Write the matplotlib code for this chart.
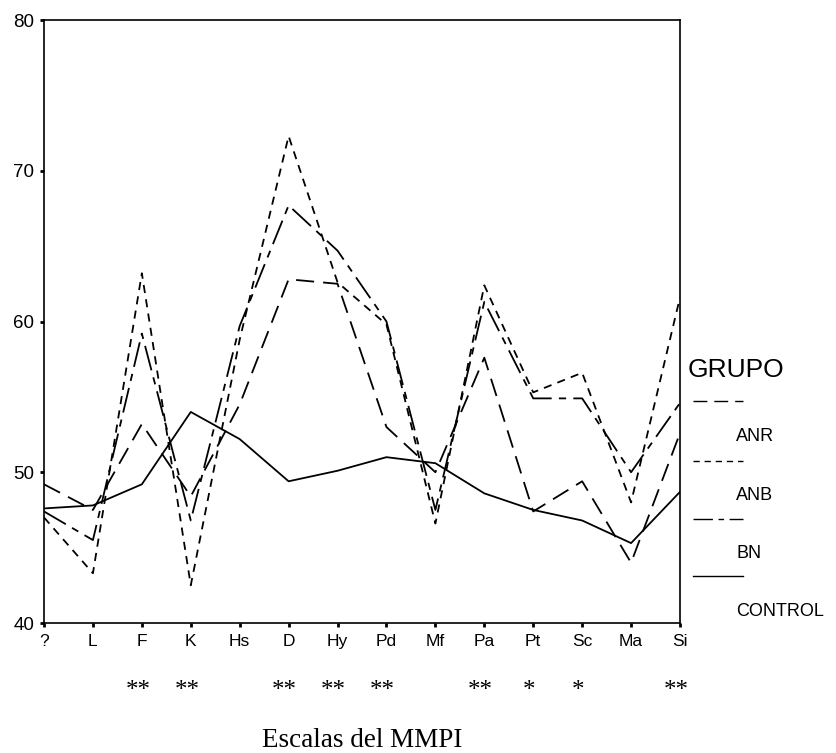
import matplotlib
matplotlib.use("Agg")
import matplotlib.pyplot as plt
from matplotlib.lines import Line2D

# ---- data ----
scales = ['?', 'L', 'F', 'K', 'Hs', 'D', 'Hy', 'Pd', 'Mf', 'Pa', 'Pt', 'Sc', 'Ma', 'Si']
anr = [49.2, 47.5, 53.2, 48.4, 54.5, 62.8, 62.5, 53.0, 50.0, 57.6, 47.4, 49.4, 44.0, 52.6]
anb = [47.0, 43.3, 63.2, 42.5, 58.8, 72.3, 62.6, 59.8, 46.6, 62.4, 55.3, 56.6, 48.0, 61.6]
bn = [47.4, 45.5, 59.2, 46.8, 59.7, 67.7, 64.7, 60.0, 47.5, 61.3, 54.9, 54.9, 50.0, 54.6]
control = [47.6, 47.8, 49.2, 54.0, 52.2, 49.4, 50.1, 51.0, 50.6, 48.6, 47.5, 46.8, 45.3, 48.7]
significance = ['', '', '**', '**', '', '**', '**', '**', '', '**', '*', '*', '', '**']
group_names = ['ANR', 'ANB', 'BN', 'CONTROL']
yticks = [40, 50, 60, 70, 80]

W, H = 836, 753
fig = plt.figure(figsize=(W / 100, H / 100), dpi=100)
ax = fig.add_axes([44 / W, 1 - 623 / H, (680 - 44) / W, (623 - 20) / H])

styles = {
    'ANR': dict(dashes=(10, 5)),
    'ANB': dict(dashes=(4.5, 3.5)),
    'BN': dict(dashes=(14, 4, 4, 4)),
    'CONTROL': dict(linestyle='-'),
}
series = {'ANR': anr, 'ANB': anb, 'BN': bn, 'CONTROL': control}
x = list(range(len(scales)))
for name in group_names:
    ax.plot(x, series[name], color='black', linewidth=1.3, **styles[name])

ax.set_xlim(0, len(scales) - 1)
ax.set_ylim(40, 80)
ax.set_yticks(yticks)
ax.set_xticks(x)
ax.set_xticklabels(scales, fontsize=12.5, family='Liberation Sans')
ax.set_yticklabels([str(v) for v in yticks], fontsize=13.5, family='Liberation Sans')
ax.tick_params(direction='out', length=3, width=2, pad=4)
ax.tick_params(axis='x', pad=5)
for sp in ax.spines.values():
    sp.set_linewidth(1.2)

# significance stars
for xi, s in zip(x, significance):
    if s:
        ax.text(xi - 0.08, -0.113, s, transform=ax.get_xaxis_transform(),
                ha='center', va='center', fontsize=18, family='Liberation Serif')

ax.text(0.5, -0.195, 'Escalas del MMPI', transform=ax.transAxes, ha='center',
        va='center', fontsize=19.5, family='Liberation Serif')

# legend drawn by hand
fig.text(688 / W, 1 - 370 / H, 'GRUPO', ha='left', va='center', fontsize=19,
         family='Liberation Sans')
line_y = [401, 461, 519, 576]
for name, ly in zip(group_names, line_y):
    fig.add_artist(Line2D([693 / W, 743 / W], [1 - ly / H, 1 - ly / H],
                          transform=fig.transFigure, color='black',
                          linewidth=1.0, **styles[name]))
    fig.text(736 / W, 1 - (ly + 35) / H, name, ha='left', va='center',
             fontsize=13, family='Liberation Sans')

fig.savefig('out.png', dpi=100)
